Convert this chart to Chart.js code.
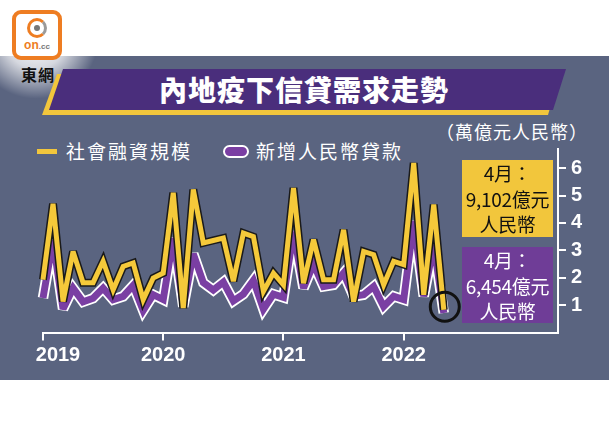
<!DOCTYPE html>
<html>
<head>
<meta charset="utf-8">
<script src="https://cdn.jsdelivr.net/npm/chart.js@4.4.0/dist/chart.umd.min.js"></script>
<style>
  body { margin: 0; width: 609px; height: 435px; background: #fff; position: relative; overflow: hidden;
         font-family: "Noto Sans CJK TC", "Noto Sans", sans-serif; }
  .abs { position: absolute; }
  #panel { left: 0; top: 56px; width: 609px; height: 324px; background: #5a6480; }
  #glow { left: -30px; top: 0px; width: 140px; height: 110px;
          background: radial-gradient(ellipse at 66px 40px, rgba(255,255,255,1) 0px, rgba(255,255,255,0.75) 30px, rgba(255,255,255,0) 62px); }
  #logo { left: 12px; top: 10px; width: 42px; height: 42px; border: 4px solid #ee7d22; border-radius: 9px; background: #fff; }
  #logo .ring { left: 11px; top: 4px; width: 14px; height: 14px; border-radius: 50%; border: 3px solid #ee7d22; border-right-color: #9a9a9a; }
  #logo .dot { left: 18px; top: 11px; width: 6px; height: 6px; border-radius: 50%; background: #777; }
  #logo .txt { left: 0; top: 24px; width: 42px; text-align: center; font: bold 12px "Liberation Sans", sans-serif; color: #ee7d22; }
  #logo .txt small { font-size: 8px; color: #777; }
  #brand { left: 21px; top: 62px; font-weight: 700; font-size: 16px; color: #111; letter-spacing: 1px; }
  #bannerY { left: 0; top: 0; width: 609px; height: 435px; background: #f2c63c;
             clip-path: polygon(57px 74px, 560px 74px, 548px 115px, 42px 115px); }
  #banner { left: 0; top: 0; width: 609px; height: 435px; background: #4a2e7c;
            clip-path: polygon(63px 69px, 566px 69px, 553px 110px, 49px 110px); }
  #title { left: 49px; top: 69px; width: 510px; height: 41px; line-height: 41px; text-align: center;
           color: #fff; font-weight: 900; font-size: 28px; letter-spacing: 1px; }
  .leg { top: 137px; color: #fff; font-size: 19px; letter-spacing: 2px; line-height: 28px; }
  #legY { left: 37px; top: 149px; width: 20px; height: 5px; background: #f2c63c; }
  #legP { left: 223px; top: 145px; width: 22px; height: 9px; background: #7a3fa3; border: 2px solid #fff; border-radius: 7px; }
  #unit { left: 436px; top: 117px; color: #fff; font-size: 18px; line-height: 28px; letter-spacing: 1px; }
  .box { left: 462px; width: 91px; text-align: center; font-size: 19px; line-height: 25.5px; letter-spacing: -0.3px; }
  #boxY { top: 160px; height: 77px; background: #f2c63c; color: #111; }
  #boxP { top: 247px; height: 76px; background: #6f3d97; color: #fff; }
  canvas { position: absolute; left: 0; top: 0; }
</style>
</head>
<body>
<div id="panel" class="abs"></div>
<div id="glow" class="abs"></div>
<div id="logo" class="abs">
  <div class="ring abs"></div><div class="dot abs"></div>
  <div class="txt abs">on<small>.cc</small></div>
</div>
<div id="brand" class="abs">東網</div>
<div id="bannerY" class="abs"></div>
<div id="banner" class="abs"></div>
<div id="title" class="abs">內地疫下信貸需求走勢</div>
<div id="legY" class="abs"></div>
<div class="leg abs" style="left:66px">社會融資規模</div>
<div id="legP" class="abs"></div>
<div class="leg abs" style="left:256px">新增人民幣貸款</div>
<div id="unit" class="abs">（萬億元人民幣）</div>
<canvas id="chart" width="609" height="435"></canvas>
<div id="boxY" class="box abs">4月：<br>9,102億元<br>人民幣</div>
<div id="boxP" class="box abs">4月：<br>6,454億元<br>人民幣</div>
<script>
// monthly, Dec 2018 .. Apr 2022 (trillion yuan)
const months = ['2018-12',
    '2019-01','2019-02','2019-03','2019-04','2019-05','2019-06','2019-07','2019-08','2019-09','2019-10','2019-11','2019-12',
    '2020-01','2020-02','2020-03','2020-04','2020-05','2020-06','2020-07','2020-08','2020-09','2020-10','2020-11','2020-12',
    '2021-01','2021-02','2021-03','2021-04','2021-05','2021-06','2021-07','2021-08','2021-09','2021-10','2021-11','2021-12',
    '2022-01','2022-02','2022-03','2022-04']
const tsf = [1.93,
    4.7, 1.13, 2.96, 1.82, 1.82, 2.6, 1.56, 2.41, 2.54, 1.2, 1.99, 2.17,
    5.1, 0.89, 5.22, 3.27, 3.36, 3.45, 1.87, 3.63, 3.5, 1.5, 2.17, 1.74,
    5.28, 1.8, 3.39, 1.93, 1.93, 3.75, 1.13, 2.96, 2.84, 1.74, 2.6, 2.48,
    6.19, 1.38, 4.67, 0.83]
const loans = [1.26,
    3.36, 0.86, 1.62, 1.12, 1.25, 1.62, 1.2, 1.32, 1.72, 0.8, 1.38, 1.2,
    3.45, 0.95, 2.87, 1.82, 1.55, 1.84, 1.15, 1.4, 1.9, 0.85, 1.4, 1.28,
    3.68, 1.62, 2.5, 1.68, 1.74, 2.17, 1.32, 1.38, 1.68, 0.95, 1.32, 1.2,
    4.06, 1.32, 3.2, 0.71]
const yearTicks = [0, 12, 24, 36]
const yearLabels = ['\u2002\u2002\u20022019', '2020', '2021', '2022']
const yTicks = [1, 2, 3, 4, 5, 6]

const pts = arr => arr.map((v, i) => ({x: i, y: v}))

// chart.js paints dataset 0 last, so `order` keeps the outlines underneath
const lineSet = (arr, color, width, order) => ({
    data: pts(arr),
    borderColor: color,
    borderWidth: width,
    borderJoinStyle: 'miter',
    borderCapStyle: 'butt',
    pointRadius: 0,
    tension: 0,
    fill: false,
    clip: false,
    order: order
})

const miterPlugin = {
    id: 'miter',
    beforeDatasetsDraw(chart) {
        chart.ctx.miterLimit = 3
    }
}

const circlePlugin = {
    id: 'aprCircle',
    afterDatasetsDraw(chart) {
        const last = months.length - 1
        const x = chart.scales.x.getPixelForValue(last)
        const y = chart.scales.y.getPixelForValue(tsf[last]) - 3
        const c = chart.ctx
        c.save()
        c.beginPath()
        c.arc(x + 1, y, 14.5, 0, Math.PI * 2)
        c.lineWidth = 3
        c.strokeStyle = '#111'
        c.stroke()
        c.restore()
    }
}

const tickFont = {family: '"Liberation Sans", Arial, sans-serif', size: 20, weight: 'bold'}

new Chart(document.getElementById('chart').getContext('2d'), {
    type: 'line',
    data: {
        datasets: [
            lineSet(loans, '#ffffff', 10.5, 4),
            lineSet(loans, '#7a3fa3', 7, 3),
            lineSet(tsf, '#1a1a1a', 8, 2),
            lineSet(tsf, '#f5c93a', 5, 1)
        ]
    },
    plugins: [miterPlugin, circlePlugin],
    options: {
        responsive: false,
        animation: false,
        events: [],
        layout: {
            padding: {left: 43, top: 149, right: 0, bottom: 0}
        },
        plugins: {
            legend: {display: false},
            tooltip: {enabled: false}
        },
        scales: {
            x: {
                type: 'linear',
                position: 'bottom',
                min: 0,
                max: 51.4,
                afterFit(scale) { scale.height = 102.5 },
                afterBuildTicks(scale) { scale.ticks = yearTicks.map(v => ({value: v})) },
                grid: {
                    drawOnChartArea: false,
                    tickLength: 8,
                    color: '#ffffff',
                    lineWidth: 2
                },
                border: {display: true, color: '#ffffff', width: 2},
                ticks: {
                    color: '#ffffff',
                    font: tickFont,
                    padding: 3,
                    maxRotation: 0,
                    autoSkip: false,
                    callback: v => yearLabels[yearTicks.indexOf(v)]
                }
            },
            y: {
                position: 'right',
                min: 0,
                max: 6.7,
                afterFit(scale) { scale.width = 51 },
                afterBuildTicks(scale) { scale.ticks = yTicks.map(v => ({value: v})) },
                grid: {
                    drawOnChartArea: false,
                    tickLength: 8,
                    color: '#ffffff',
                    lineWidth: 2
                },
                border: {display: true, color: '#ffffff', width: 2},
                ticks: {
                    color: '#ffffff',
                    font: tickFont,
                    padding: 5
                }
            }
        }
    }
})
</script>
</body>
</html>
